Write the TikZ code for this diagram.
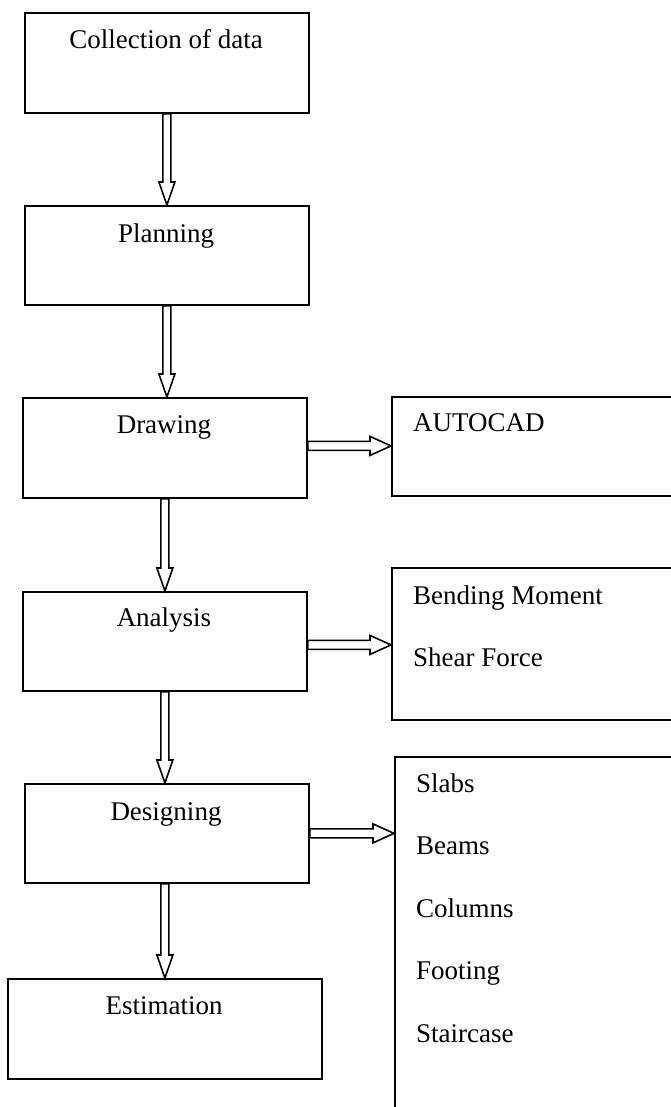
\documentclass[tikz,border=0pt]{standalone}
\usepackage{fontspec}
\setmainfont{Liberation Serif}
\usetikzlibrary{calc}
\begin{document}
\begin{tikzpicture}[x=1pt,y=-1pt,
  box/.style={draw, line width=1.8pt, rectangle, inner sep=0pt, anchor=north west},
  lbl/.style={anchor=base, font=\fontsize{27}{31}\selectfont, inner sep=0pt},
  itm/.style={anchor=base west, font=\fontsize{27}{31}\selectfont, inner sep=0pt},
  barrow/.style={draw, line width=1.6pt, fill=white, line join=miter},
  downarrow/.style={barrow, to path={let \p1=(\tikztostart), \p2=(\tikztotarget) in
    (\x1-4pt,\y1) -- (\x1-4pt,\y2+23pt) -- (\x1-8pt,\y2+23pt) -- (\x1,\y2)
    -- (\x1+8pt,\y2+23pt) -- (\x1+4pt,\y2+23pt) -- (\x1+4pt,\y1) -- cycle}},
  rightarrow/.style={barrow, to path={let \p1=(\tikztostart), \p2=(\tikztotarget) in
    (\x1,\y1+4.5pt) -- (\x2-21pt,\y1+4.5pt) -- (\x2-21pt,\y1+9.5pt) -- (\x2,\y1)
    -- (\x2-21pt,\y1-9.5pt) -- (\x2-21pt,\y1-4.5pt) -- (\x1,\y1-4.5pt) -- cycle}}
]
\useasboundingbox (0,0) rectangle (671,1107);
\clip (0,0) rectangle (671,1107);
\fill[white] (0,0) rectangle (671,1107);

% main column
\node[box, minimum width=284pt, minimum height=100pt] (col) at (24,12) {};
\node[lbl] (tcol) at (166,49) {Collection of data};
\node[box, minimum width=284pt, minimum height=99pt] (pla) at (24,205) {};
\node[lbl] (tpla) at (166,242) {Planning};
\node[box, minimum width=284pt, minimum height=100pt] (dra) at (22,397) {};
\node[lbl] (tdra) at (164,433) {Drawing};
\node[box, minimum width=284pt, minimum height=99pt] (ana) at (22,591) {};
\node[lbl] (tana) at (164,626) {Analysis};
\node[box, minimum width=284pt, minimum height=99pt] (des) at (24,783) {};
\node[lbl] (tdes) at (166,820) {Designing};
\node[box, minimum width=314pt, minimum height=100pt] (est) at (7,978) {};
\node[lbl] (test) at (164,1014) {Estimation};

% side boxes
\node[box, minimum width=310pt, minimum height=99pt] (aut) at (391,396) {};
\node[itm] (taut) at (413,431) {AUTOCAD};
\node[box, minimum width=310pt, minimum height=152pt] (ben) at (391,567) {};
\node[itm] (tben1) at (413,604) {Bending Moment};
\node[itm] (tben2) at (413,666) {Shear Force};
\node[box, minimum width=310pt, minimum height=380pt] (sla) at (394,756) {};
\node[itm] (s1) at (416,792) {Slabs};
\node[itm] (s2) at (416,854) {Beams};
\node[itm] (s3) at (416,917) {Columns};
\node[itm] (s4) at (416,979) {Footing};
\node[itm] (s5) at (416,1042) {Staircase};

% vertical arrows
\draw[downarrow] (col.south) to (pla.north);
\draw[downarrow] (pla.south) to (dra.north);
\draw[downarrow] (dra.south) to (ana.north);
\draw[downarrow] (ana.south) to (des.north);
\draw[downarrow] ([xshift=-2pt]des.south) to (est.north);

% horizontal arrows
\draw[rightarrow] ([yshift=2pt]dra.east) to ([yshift=2pt]dra.east -| aut.west);
\draw[rightarrow] ([yshift=-3.5pt]ana.east) to ([yshift=-3.5pt]ana.east -| ben.west);
\draw[rightarrow] (des.east) to (des.east -| sla.west);
\end{tikzpicture}
\end{document}
